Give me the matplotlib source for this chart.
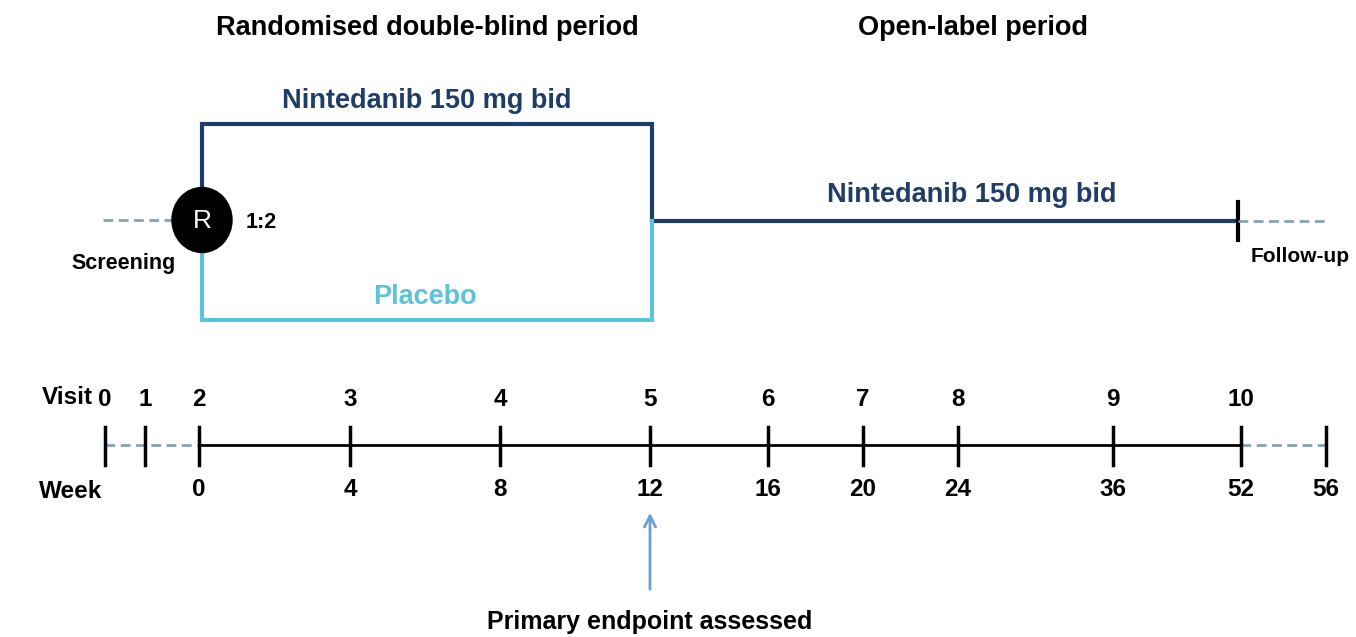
import matplotlib
matplotlib.use("Agg")
import matplotlib.pyplot as plt
from matplotlib.patches import Ellipse

plt.rcParams['font.family'] = ['Liberation Sans', 'DejaVu Sans']

# ---- data ----
period_labels = ["Randomised double-blind period", "Open-label period"]
arm_labels = ["Nintedanib 150 mg bid", "Placebo"]
visit_labels = ["0", "1", "2", "3", "4", "5", "6", "7", "8", "9", "10"]
visit_x = [105, 145, 199, 350, 500, 650, 768, 863, 958, 1113, 1241]
week_labels = ["0", "4", "8", "12", "16", "20", "24", "36", "52", "56"]
week_x = [199, 350, 500, 650, 768, 863, 958, 1113, 1241, 1326]

NAVY = "#1f3d68"
LIGHT = "#5ec3d9"
DASH = "#8aa0b2"
ARROW = "#6b9fd3"

fig = plt.figure(figsize=(13.56, 6.37), dpi=100)
ax = fig.add_axes([0, 0, 1, 1])
ax.set_xlim(0, 1356)
ax.set_ylim(637, 0)
ax.axis('off')

bold = dict(fontweight='bold', ha='center', va='center')

# period titles
ax.text(427, 28, period_labels[0], fontsize=19.5, color='black', **bold)
ax.text(973, 28, period_labels[1], fontsize=19.5, color='black', **bold)

# randomisation
cx, cy = 202, 220
ax.plot([103, 172], [cy, cy], color=DASH, lw=2, ls=(0, (3.5, 2)), zorder=1)
# nintedanib arm
ax.plot([cx, cx, 652, 652, 1238], [cy, 124, 124, 221, 221], color=NAVY, lw=3,
        solid_joinstyle='miter', zorder=1)
# placebo arm
ax.plot([cx, cx, 652, 652], [cy, 320, 320, 221], color=LIGHT, lw=3,
        solid_joinstyle='miter', zorder=1)
ax.add_patch(Ellipse((cx, cy), 60, 65, color='black', zorder=3))
ax.text(cx, cy + 1, "R", color='white', fontsize=19, ha='center', va='center', zorder=4)
ax.text(261, 223, "1:2", fontsize=15.5, **bold)
ax.text(124, 263, "Screening", fontsize=15.5, **bold)

# end of treatment
ax.plot([1238, 1238], [202, 240], color='black', lw=3)
ax.plot([1238, 1326], [221, 221], color=DASH, lw=2, ls=(0, (3.5, 2)))
ax.text(1300, 257, "Follow-up", fontsize=15, **bold)

ax.text(427, 101, arm_labels[0], fontsize=19.5, color=NAVY, **bold)
ax.text(972, 195, arm_labels[0], fontsize=19.5, color=NAVY, **bold)
ax.text(425, 297, arm_labels[1], fontsize=19.5, color=LIGHT, **bold)

# timeline
ly = 445
ax.plot([visit_x[0], visit_x[2]], [ly, ly], color=DASH, lw=2, ls=(0, (3.5, 2)))
ax.plot([visit_x[2], visit_x[-1]], [ly, ly], color='black', lw=2)
ax.plot([visit_x[-1], week_x[-1]], [ly, ly], color=DASH, lw=2, ls=(0, (3.5, 2)))
tick_x = sorted(set(visit_x + week_x))
for x in tick_x:
    ax.plot([x, x], [427, 465], color='black', lw=2.5)

ax.text(67, 397, "Visit", fontsize=17.5, **bold)
ax.text(71, 492, "Week", fontsize=17.5, **bold)
for lab, x in zip(visit_labels, visit_x):
    ax.text(x, 399, lab, fontsize=17.5, **bold)
for lab, x in zip(week_labels, week_x):
    ax.text(x, 489, lab, fontsize=17.5, **bold)

ax.annotate("", xy=(650, 510), xytext=(650, 592),
            arrowprops=dict(arrowstyle='->', color=ARROW, lw=2, mutation_scale=20))
ax.text(650, 622, "Primary endpoint assessed", fontsize=18, **bold)

fig.savefig("out.png", dpi=100)
